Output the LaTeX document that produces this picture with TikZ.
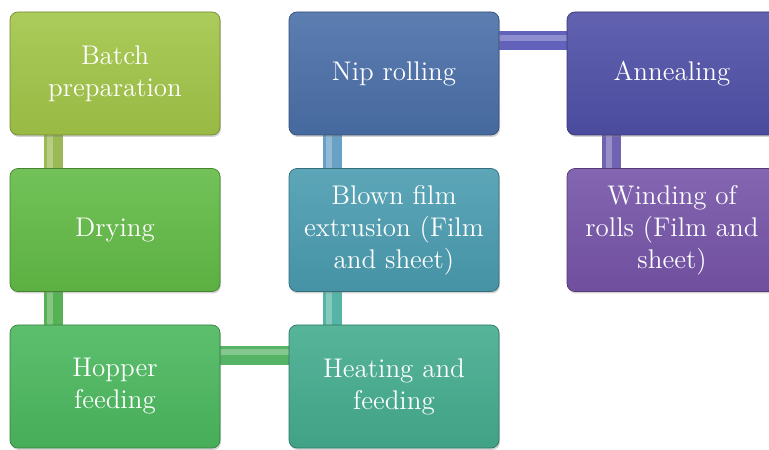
\documentclass[tikz,border=0pt]{standalone}
\usepackage{fontspec}
\setmainfont{lmroman12-regular}[Extension=.otf]
\usetikzlibrary{shadows,backgrounds}

% box colours
\definecolor{cBatch}{HTML}{A2C548}
\definecolor{cDry}{HTML}{62BB46}
\definecolor{cHop}{HTML}{4BB85E}
\definecolor{cHeat}{HTML}{44AC8E}
\definecolor{cBlown}{HTML}{4A9CB0}
\definecolor{cNip}{HTML}{4A6FA8}
\definecolor{cAnn}{HTML}{5050A8}
\definecolor{cWind}{HTML}{7654A8}
% connector colours
\definecolor{bA}{HTML}{A8CA5C}
\definecolor{bB}{HTML}{5FC25A}
\definecolor{bC}{HTML}{5CC46E}
\definecolor{bD}{HTML}{5CC4B4}
\definecolor{bE}{HTML}{72AED6}
\definecolor{bF}{HTML}{6C6ACB}
\definecolor{bG}{HTML}{7B6CC4}

\tikzset{
  stepbox/.style={rounded corners=8pt, minimum width=210pt, minimum height=123pt,
    inner sep=0pt, text=white, align=center, font=\fontsize{27}{32}\selectfont,
    top color=#1!90!white, bottom color=#1!94!black, draw=#1!70!black, line width=0.7pt,
    drop shadow={opacity=0.35, shadow xshift=1pt, shadow yshift=-2pt}},
  bar/.style={line width=19pt, draw=#1!92!black},
  barhi/.style={line width=6pt, draw=white, opacity=0.28},
}

\begin{document}
\begin{tikzpicture}[x=1pt,y=1pt]
\clip (0,0) rectangle (769,450);
\useasboundingbox (0,0) rectangle (769,450);

% process steps
\node[stepbox=cBatch] (batch) at (115,376.5) {Batch\\preparation};
\node[stepbox=cDry]   (dry)   at (115,220)   {Drying};
\node[stepbox=cHop]   (hop)   at (115,63.5)  {Hopper\\feeding};
\node[stepbox=cHeat]  (heat)  at (394,63.5)  {Heating and\\feeding};
\node[stepbox=cBlown] (blown) at (394,220)   {Blown film\\extrusion (Film\\and sheet)};
\node[stepbox=cNip]   (nip)   at (394,376.5) {Nip rolling};
\node[stepbox=cAnn]   (ann)   at (672,376.5) {Annealing};
\node[stepbox=cWind]  (wind)  at (672,220)   {Winding of\\rolls (Film and\\sheet)};

% connecting bars behind the boxes
\begin{scope}[on background layer]
  \draw[bar=bA] ([xshift=-62pt]batch.center) -- ([xshift=-62pt]dry.center);
  \draw[barhi]  ([xshift=-65pt]batch.south) -- ([xshift=-65pt]dry.north);
  \draw[bar=bB] ([xshift=-62pt]dry.center) -- ([xshift=-62pt]hop.center);
  \draw[barhi]  ([xshift=-65pt]dry.south) -- ([xshift=-65pt]hop.north);
  \draw[bar=bC] ([yshift=31pt]hop.center) -- ([yshift=31pt]heat.center);
  \draw[barhi]  ([yshift=34pt]hop.east) -- ([yshift=34pt]heat.west);
  \draw[bar=bD] ([xshift=-62pt]heat.center) -- ([xshift=-62pt]blown.center);
  \draw[barhi]  ([xshift=-65pt]heat.north) -- ([xshift=-65pt]blown.south);
  \draw[bar=bE] ([xshift=-62pt]blown.center) -- ([xshift=-62pt]nip.center);
  \draw[barhi]  ([xshift=-65pt]blown.north) -- ([xshift=-65pt]nip.south);
  \draw[bar=bF] ([yshift=32.5pt]nip.center) -- ([yshift=32.5pt]ann.center);
  \draw[barhi]  ([yshift=35.5pt]nip.east) -- ([yshift=35.5pt]ann.west);
  \draw[bar=bG] ([xshift=-60.5pt]ann.center) -- ([xshift=-60.5pt]wind.center);
  \draw[barhi]  ([xshift=-63.5pt]ann.south) -- ([xshift=-63.5pt]wind.north);
\end{scope}
\end{tikzpicture}
\end{document}
